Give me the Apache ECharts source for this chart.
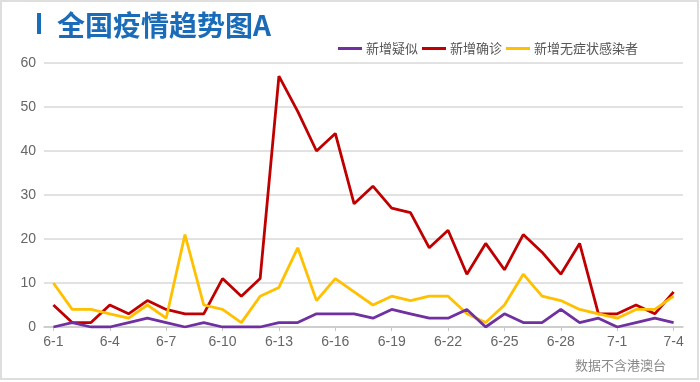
<!DOCTYPE html>
<html>
<head>
<meta charset="utf-8">
<script src="https://cdn.jsdelivr.net/npm/echarts@6/dist/echarts.min.js"></script>
<style>html,body{margin:0;padding:0;background:#fff;}#c{width:700px;height:382px;}</style>
</head>
<body>
<div id="c"></div>
<script>
const dates = ['6-1','6-2','6-3','6-4','6-5','6-6','6-7','6-8','6-9','6-10','6-11','6-12','6-13','6-14','6-15','6-16','6-17','6-18','6-19','6-20','6-21','6-22','6-23','6-24','6-25','6-26','6-27','6-28','6-29','6-30','7-1','7-2','7-3','7-4'];
const suspected = [0,1,0,0,1,2,1,0,1,0,0,0,1,1,3,3,3,2,4,3,2,2,4,0,3,1,1,4,1,2,0,1,2,1];
const confirmed = [5,1,1,5,3,6,4,3,3,11,7,11,57,49,40,44,28,32,27,26,18,22,12,19,13,21,17,12,19,3,3,5,3,8];
const asymptomatic = [10,4,4,3,2,5,2,21,5,4,1,7,9,18,6,11,8,5,7,6,7,7,3,1,5,12,7,6,4,3,2,4,4,7];
const seriesNames = ['新增疑似','新增确诊','新增无症状感染者'];
const colors = ['#7030a0','#c00000','#ffc000'];
const yTicks = {min:0, max:60, interval:10};

const chart = echarts.init(document.getElementById('c'), null, {renderer:'canvas'});
const latin = 'Liberation Sans, Arial, Noto Sans CJK SC, sans-serif';
const cjk = 'Noto Sans CJK SC, sans-serif';
const dataSets = [suspected, confirmed, asymptomatic];
chart.setOption({
  animation:false,
  backgroundColor:'#fff',
  graphic:[
    {type:'rect', shape:{x:1,y:1,width:697,height:378}, style:{fill:'none', stroke:'#dedede', lineWidth:2}},
    {type:'rect', shape:{x:37,y:13,width:4,height:21}, style:{fill:'#1a6cb8'}},
    {type:'text', left:575, top:359, style:{text:'数据不含港澳台', font:'13px Noto Sans CJK SC', fill:'#888'}}
  ],
  title:{
    text:'全国疫情趋势图A', left:52, top:6,
    textStyle:{fontFamily:cjk, fontSize:28, fontWeight:'bold', color:'#1a6cb8'}
  },
  legend:{
    left:333, top:37, itemWidth:24, itemHeight:3, itemGap:4, icon:'rect',
    textStyle:{fontFamily:cjk, fontSize:13, color:'#555', padding:[0,0,0,-1]},
    data:seriesNames
  },
  grid:{left:44, right:17, top:63, bottom:55},
  xAxis:{
    type:'category', data:dates, boundaryGap:true,
    axisLine:{lineStyle:{color:'#c8c8c8', width:1.5}},
    axisTick:{show:true, alignWithLabel:true, interval:2, length:4, lineStyle:{color:'#c8c8c8'}},
    axisLabel:{interval:2, fontFamily:latin, fontSize:14, color:'#666', margin:8}
  },
  yAxis:{
    type:'value', min:yTicks.min, max:yTicks.max, interval:yTicks.interval,
    axisLine:{show:false}, axisTick:{show:false},
    splitLine:{lineStyle:{color:'#e2e2e2', width:2}},
    axisLabel:{fontFamily:latin, fontSize:14, color:'#666', margin:8}
  },
  series: seriesNames.map((n,i)=>({
    name:n, type:'line', data:dataSets[i], symbol:'none',
    lineStyle:{color:colors[i], width:2.8}, itemStyle:{color:colors[i]},
    z: i===1 ? 3 : (i===2 ? 4 : 5)
  }))
});
</script>
</body>
</html>
